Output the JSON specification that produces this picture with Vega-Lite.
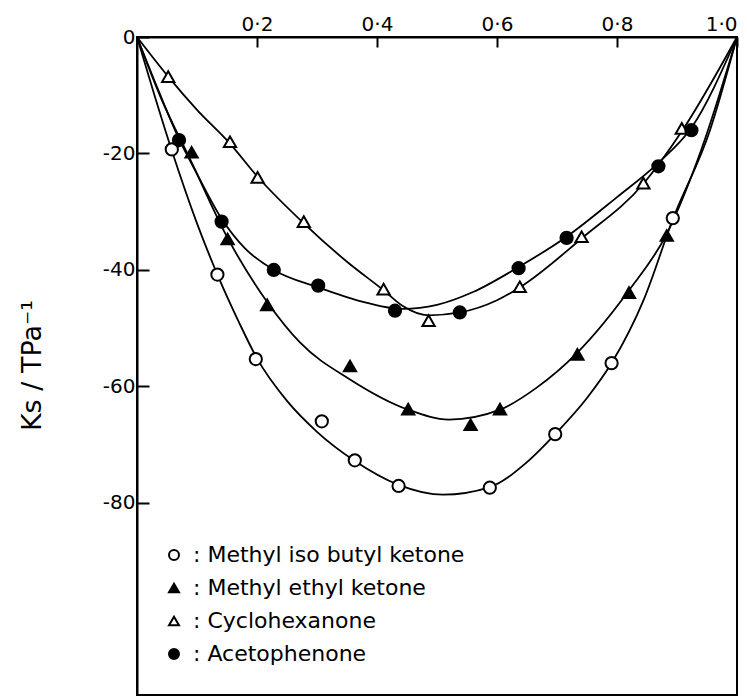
{
  "$schema": "https://vega.github.io/schema/vega-lite/v6.json",
  "width": 600,
  "height": 658,
  "autosize": "none",
  "padding": {"left": 137, "top": 37, "right": 10, "bottom": 5},
  "background": "white",
  "config": {
    "view": {"stroke": "black", "strokeWidth": 2},
    "font": "DejaVu Sans"
  },
  "datasets": {
    "pts": [
      {"x": 0.058, "y": -19.3, "series": "Methyl iso butyl ketone"},
      {"x": 0.134, "y": -40.8, "series": "Methyl iso butyl ketone"},
      {"x": 0.198, "y": -55.3, "series": "Methyl iso butyl ketone"},
      {"x": 0.308, "y": -66.0, "series": "Methyl iso butyl ketone"},
      {"x": 0.363, "y": -72.7, "series": "Methyl iso butyl ketone"},
      {"x": 0.436, "y": -77.1, "series": "Methyl iso butyl ketone"},
      {"x": 0.588, "y": -77.4, "series": "Methyl iso butyl ketone"},
      {"x": 0.697, "y": -68.2, "series": "Methyl iso butyl ketone"},
      {"x": 0.791, "y": -56.0, "series": "Methyl iso butyl ketone"},
      {"x": 0.893, "y": -31.1, "series": "Methyl iso butyl ketone"},
      {"x": 0.091, "y": -19.8, "series": "Methyl ethyl ketone"},
      {"x": 0.151, "y": -34.7, "series": "Methyl ethyl ketone"},
      {"x": 0.217, "y": -46.0, "series": "Methyl ethyl ketone"},
      {"x": 0.355, "y": -56.5, "series": "Methyl ethyl ketone"},
      {"x": 0.452, "y": -63.9, "series": "Methyl ethyl ketone"},
      {"x": 0.556, "y": -66.6, "series": "Methyl ethyl ketone"},
      {"x": 0.605, "y": -63.9, "series": "Methyl ethyl ketone"},
      {"x": 0.734, "y": -54.5, "series": "Methyl ethyl ketone"},
      {"x": 0.820, "y": -43.9, "series": "Methyl ethyl ketone"},
      {"x": 0.883, "y": -34.1, "series": "Methyl ethyl ketone"},
      {"x": 0.052, "y": -6.8, "series": "Cyclohexanone"},
      {"x": 0.155, "y": -18.0, "series": "Cyclohexanone"},
      {"x": 0.201, "y": -24.1, "series": "Cyclohexanone"},
      {"x": 0.278, "y": -31.7, "series": "Cyclohexanone"},
      {"x": 0.411, "y": -43.3, "series": "Cyclohexanone"},
      {"x": 0.486, "y": -48.7, "series": "Cyclohexanone"},
      {"x": 0.638, "y": -42.9, "series": "Cyclohexanone"},
      {"x": 0.741, "y": -34.3, "series": "Cyclohexanone"},
      {"x": 0.844, "y": -25.1, "series": "Cyclohexanone"},
      {"x": 0.908, "y": -15.7, "series": "Cyclohexanone"},
      {"x": 0.070, "y": -17.7, "series": "Acetophenone"},
      {"x": 0.141, "y": -31.7, "series": "Acetophenone"},
      {"x": 0.228, "y": -40.0, "series": "Acetophenone"},
      {"x": 0.302, "y": -42.7, "series": "Acetophenone"},
      {"x": 0.430, "y": -47.0, "series": "Acetophenone"},
      {"x": 0.538, "y": -47.3, "series": "Acetophenone"},
      {"x": 0.636, "y": -39.7, "series": "Acetophenone"},
      {"x": 0.716, "y": -34.5, "series": "Acetophenone"},
      {"x": 0.869, "y": -22.2, "series": "Acetophenone"},
      {"x": 0.924, "y": -16.0, "series": "Acetophenone"}
    ],
    "curves": [
      {"x": 0.0, "y": 0.0, "series": "Methyl iso butyl ketone"},
      {"x": 0.03, "y": -10.3, "series": "Methyl iso butyl ketone"},
      {"x": 0.058, "y": -19.5, "series": "Methyl iso butyl ketone"},
      {"x": 0.1, "y": -32.0, "series": "Methyl iso butyl ketone"},
      {"x": 0.134, "y": -40.8, "series": "Methyl iso butyl ketone"},
      {"x": 0.17, "y": -49.0, "series": "Methyl iso butyl ketone"},
      {"x": 0.2, "y": -55.2, "series": "Methyl iso butyl ketone"},
      {"x": 0.25, "y": -62.5, "series": "Methyl iso butyl ketone"},
      {"x": 0.3, "y": -67.8, "series": "Methyl iso butyl ketone"},
      {"x": 0.363, "y": -72.8, "series": "Methyl iso butyl ketone"},
      {"x": 0.436, "y": -76.9, "series": "Methyl iso butyl ketone"},
      {"x": 0.51, "y": -78.6, "series": "Methyl iso butyl ketone"},
      {"x": 0.588, "y": -77.3, "series": "Methyl iso butyl ketone"},
      {"x": 0.65, "y": -73.0, "series": "Methyl iso butyl ketone"},
      {"x": 0.697, "y": -68.2, "series": "Methyl iso butyl ketone"},
      {"x": 0.75, "y": -62.0, "series": "Methyl iso butyl ketone"},
      {"x": 0.791, "y": -56.0, "series": "Methyl iso butyl ketone"},
      {"x": 0.845, "y": -45.0, "series": "Methyl iso butyl ketone"},
      {"x": 0.893, "y": -31.3, "series": "Methyl iso butyl ketone"},
      {"x": 0.955, "y": -16.0, "series": "Methyl iso butyl ketone"},
      {"x": 1.0, "y": 0.0, "series": "Methyl iso butyl ketone"},
      {"x": 0.0, "y": 0.0, "series": "Methyl ethyl ketone"},
      {"x": 0.04, "y": -10.5, "series": "Methyl ethyl ketone"},
      {"x": 0.09, "y": -21.3, "series": "Methyl ethyl ketone"},
      {"x": 0.151, "y": -34.5, "series": "Methyl ethyl ketone"},
      {"x": 0.217, "y": -45.5, "series": "Methyl ethyl ketone"},
      {"x": 0.272, "y": -52.5, "series": "Methyl ethyl ketone"},
      {"x": 0.355, "y": -58.8, "series": "Methyl ethyl ketone"},
      {"x": 0.452, "y": -64.0, "series": "Methyl ethyl ketone"},
      {"x": 0.52, "y": -65.7, "series": "Methyl ethyl ketone"},
      {"x": 0.605, "y": -64.0, "series": "Methyl ethyl ketone"},
      {"x": 0.665, "y": -60.3, "series": "Methyl ethyl ketone"},
      {"x": 0.734, "y": -54.2, "series": "Methyl ethyl ketone"},
      {"x": 0.82, "y": -43.5, "series": "Methyl ethyl ketone"},
      {"x": 0.883, "y": -33.8, "series": "Methyl ethyl ketone"},
      {"x": 0.94, "y": -19.5, "series": "Methyl ethyl ketone"},
      {"x": 1.0, "y": 0.0, "series": "Methyl ethyl ketone"},
      {"x": 0.0, "y": 0.0, "series": "Cyclohexanone"},
      {"x": 0.052, "y": -6.8, "series": "Cyclohexanone"},
      {"x": 0.1, "y": -12.5, "series": "Cyclohexanone"},
      {"x": 0.155, "y": -18.3, "series": "Cyclohexanone"},
      {"x": 0.201, "y": -24.0, "series": "Cyclohexanone"},
      {"x": 0.278, "y": -32.0, "series": "Cyclohexanone"},
      {"x": 0.35, "y": -38.6, "series": "Cyclohexanone"},
      {"x": 0.411, "y": -43.5, "series": "Cyclohexanone"},
      {"x": 0.443, "y": -46.2, "series": "Cyclohexanone"},
      {"x": 0.486, "y": -47.8, "series": "Cyclohexanone"},
      {"x": 0.538, "y": -47.3, "series": "Cyclohexanone"},
      {"x": 0.6, "y": -45.2, "series": "Cyclohexanone"},
      {"x": 0.638, "y": -43.0, "series": "Cyclohexanone"},
      {"x": 0.741, "y": -34.6, "series": "Cyclohexanone"},
      {"x": 0.844, "y": -25.2, "series": "Cyclohexanone"},
      {"x": 0.908, "y": -16.2, "series": "Cyclohexanone"},
      {"x": 1.0, "y": 0.0, "series": "Cyclohexanone"},
      {"x": 0.0, "y": 0.0, "series": "Acetophenone"},
      {"x": 0.035, "y": -9.0, "series": "Acetophenone"},
      {"x": 0.07, "y": -17.5, "series": "Acetophenone"},
      {"x": 0.1, "y": -23.5, "series": "Acetophenone"},
      {"x": 0.141, "y": -31.2, "series": "Acetophenone"},
      {"x": 0.18, "y": -36.3, "series": "Acetophenone"},
      {"x": 0.228, "y": -40.0, "series": "Acetophenone"},
      {"x": 0.302, "y": -43.0, "series": "Acetophenone"},
      {"x": 0.37, "y": -45.3, "series": "Acetophenone"},
      {"x": 0.443, "y": -46.7, "series": "Acetophenone"},
      {"x": 0.5, "y": -46.0, "series": "Acetophenone"},
      {"x": 0.56, "y": -43.8, "series": "Acetophenone"},
      {"x": 0.636, "y": -39.5, "series": "Acetophenone"},
      {"x": 0.716, "y": -34.3, "series": "Acetophenone"},
      {"x": 0.8, "y": -27.5, "series": "Acetophenone"},
      {"x": 0.869, "y": -21.6, "series": "Acetophenone"},
      {"x": 0.924, "y": -15.6, "series": "Acetophenone"},
      {"x": 1.0, "y": 0.0, "series": "Acetophenone"}
    ]
  },
  "layer": [
    {
      "data": {"name": "curves"},
      "mark": {"type": "line", "color": "black", "strokeWidth": 1.8, "interpolate": "monotone"},
      "encoding": {
        "x": {
          "field": "x", "type": "quantitative",
          "scale": {"domain": [0, 1], "nice": false, "zero": false},
          "axis": {
            "orient": "top", "title": null, "values": [0.2, 0.4, 0.6, 0.8, 1.0],
            "labelExpr": "replace(format(datum.value, '.1f'), '.', '·')",
            "grid": false, "domainColor": "black", "domainWidth": 2,
            "tickColor": "black", "tickWidth": 2, "tickSize": -10,
            "labelFontSize": 20, "labelColor": "black", "labelPadding": 13,
            "labelFont": "DejaVu Sans"
          }
        },
        "y": {
          "field": "y", "type": "quantitative",
          "scale": {"domain": [-113, 0], "nice": false, "zero": false},
          "axis": {
            "title": "Ks / TPa⁻¹", "values": [0, -20, -40, -60, -80],
            "labelExpr": "datum.value == 0 ? '0' : '-' + (-datum.value)",
            "grid": false, "domainColor": "black", "domainWidth": 2,
            "tickColor": "black", "tickWidth": 2, "tickSize": -12,
            "labelFontSize": 20, "labelColor": "black", "labelPadding": 14,
            "labelFont": "DejaVu Sans",
            "titleFontSize": 27, "titleFontWeight": "normal", "titleColor": "black",
            "titleFont": "DejaVu Sans", "titleX": -91, "titleY": 328
          }
        },
        "detail": {"field": "series"}
      }
    },
    {
      "data": {"name": "pts"},
      "mark": {"type": "point", "strokeWidth": 2, "opacity": 1, "size": 150},
      "encoding": {
        "x": {"field": "x", "type": "quantitative"},
        "y": {"field": "y", "type": "quantitative"},
        "shape": {
          "field": "series", "type": "nominal",
          "scale": {
            "domain": ["Methyl iso butyl ketone", "Methyl ethyl ketone", "Cyclohexanone", "Acetophenone"],
            "range": ["circle", "triangle-up", "triangle-up", "circle"]
          },
          "legend": {
            "title": null, "orient": "none", "legendX": 26, "legendY": 507,
            "labelExpr": "': ' + datum.label",
            "labelFontSize": 22, "labelColor": "black", "labelFont": "DejaVu Sans",
            "symbolSize": 100, "symbolStrokeWidth": 2,
            "rowPadding": 11, "labelOffset": 8, "padding": 0, "labelLimit": 400
          }
        },
        "fill": {
          "field": "series", "type": "nominal",
          "scale": {
            "domain": ["Methyl iso butyl ketone", "Methyl ethyl ketone", "Cyclohexanone", "Acetophenone"],
            "range": ["white", "black", "white", "black"]
          },
          "legend": {
            "title": null, "orient": "none", "legendX": 26, "legendY": 507,
            "labelExpr": "': ' + datum.label",
            "labelFontSize": 22, "labelColor": "black", "labelFont": "DejaVu Sans",
            "symbolSize": 100, "symbolStrokeWidth": 2,
            "rowPadding": 11, "labelOffset": 8, "padding": 0, "labelLimit": 400
          }
        },
        "stroke": {
          "field": "series", "type": "nominal",
          "scale": {
            "domain": ["Methyl iso butyl ketone", "Methyl ethyl ketone", "Cyclohexanone", "Acetophenone"],
            "range": ["black", "black", "black", "black"]
          },
          "legend": {
            "title": null, "orient": "none", "legendX": 26, "legendY": 507,
            "labelExpr": "': ' + datum.label",
            "labelFontSize": 22, "labelColor": "black", "labelFont": "DejaVu Sans",
            "symbolSize": 100, "symbolStrokeWidth": 2,
            "rowPadding": 11, "labelOffset": 8, "padding": 0, "labelLimit": 400
          }
        }
      }
    }
  ]
}
